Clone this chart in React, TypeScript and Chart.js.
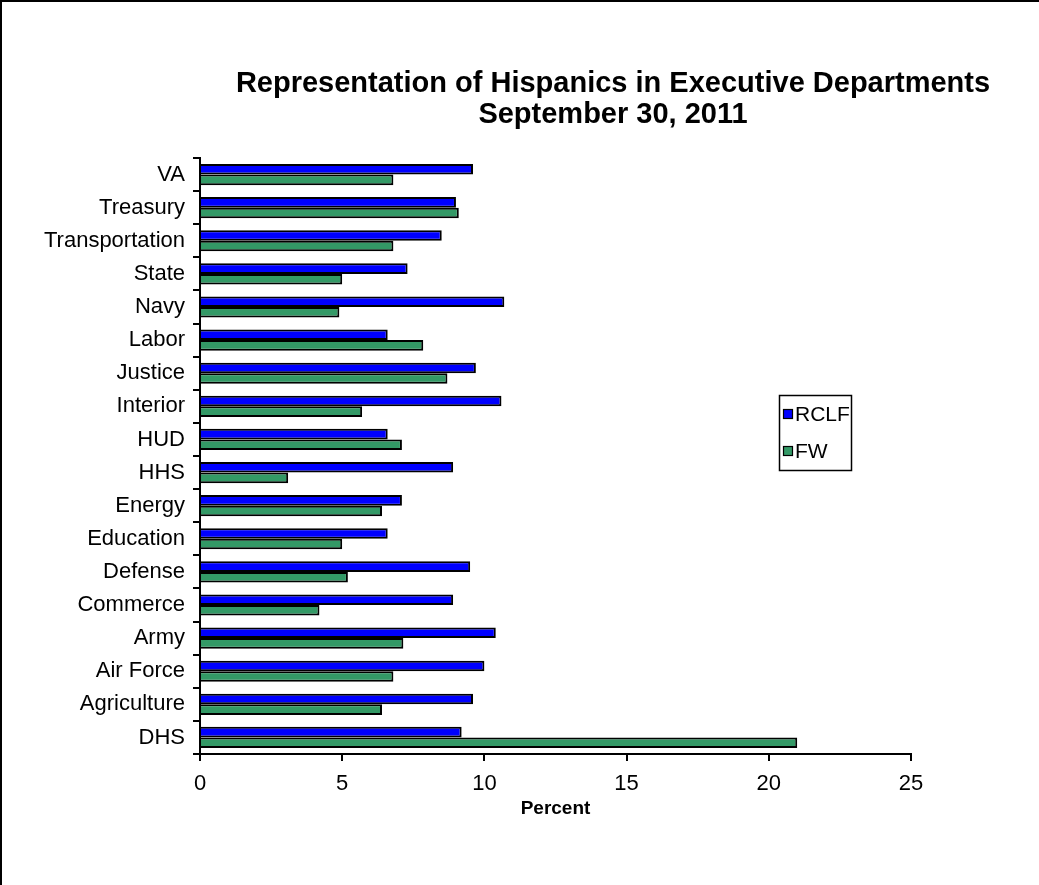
import React, { useEffect, useRef } from "react";
import { Chart, registerables } from "chart.js";

Chart.register(...registerables);

const departments = [
  "VA", "Treasury", "Transportation", "State", "Navy", "Labor", "Justice", "Interior", "HUD",
  "HHS", "Energy", "Education", "Defense", "Commerce", "Army", "Air Force", "Agriculture", "DHS",
];
const rclf = [9.6, 9.0, 8.5, 7.3, 10.7, 6.6, 9.7, 10.6, 6.6, 8.9, 7.1, 6.6, 9.5, 8.9, 10.4, 10.0, 9.6, 9.2];
const fw = [6.8, 9.1, 6.8, 5.0, 4.9, 7.85, 8.7, 5.7, 7.1, 3.1, 6.4, 5.0, 5.2, 4.2, 7.15, 6.8, 6.4, 21.0];
const seriesNames = ["RCLF", "FW"];
const seriesColors = ["#0000FF", "#339966"];
const xTicks = [0, 5, 10, 15, 20, 25];
const titleLines = ["Representation of Hispanics in Executive Departments", "September 30, 2011"];
const xTitle = "Percent";

const FONT = "'Liberation Sans', Arial, sans-serif";
const W = 1039;
const H = 885;

const decorPlugin = {
  id: "decor",
  beforeDraw(chart: any) {
    const ctx = chart.ctx;
    ctx.save();
    ctx.fillStyle = "#fff";
    ctx.fillRect(0, 0, chart.width, chart.height);
    ctx.strokeStyle = "#000";
    ctx.lineWidth = 2;
    ctx.beginPath();
    ctx.moveTo(1, H);
    ctx.lineTo(1, 1);
    ctx.lineTo(W, 1);
    ctx.stroke();
    ctx.restore();
  },
  afterDraw(chart: any) {
    const ctx = chart.ctx;
    ctx.save();
    ctx.fillStyle = "#000";
    ctx.font = `bold 29px ${FONT}`;
    ctx.textAlign = "center";
    ctx.textBaseline = "middle";
    ctx.fillText(titleLines[0], 613, 84);
    ctx.fillText(titleLines[1], 613, 115);
    // legend
    const bx = 779, by = 395, bw = 72, bh = 75;
    ctx.fillStyle = "#fff";
    ctx.fillRect(bx, by, bw, bh);
    ctx.strokeStyle = "#000";
    ctx.lineWidth = 1.5;
    ctx.strokeRect(bx + 0.5, by + 0.5, bw, bh);
    ctx.font = `21px ${FONT}`;
    ctx.textAlign = "left";
    ctx.textBaseline = "middle";
    const ys = [414, 451];
    chart.data.datasets.forEach((ds: any, i: number) => {
      ctx.fillStyle = ds.backgroundColor;
      ctx.fillRect(bx + 4, ys[i] - 5, 10, 10);
      ctx.strokeStyle = "#000";
      ctx.lineWidth = 1.2;
      ctx.strokeRect(bx + 4.5, ys[i] - 4.5, 9, 9);
      ctx.fillStyle = "#000";
      ctx.fillText(ds.label, bx + 16, ys[i] + 1);
    });
    ctx.restore();
  },
};

export default function App() {
  const ref = useRef<HTMLCanvasElement>(null);
  useEffect(() => {
    document.body.style.margin = "0";
    const chart = new Chart(ref.current!, {
      type: "bar",
      data: {
        labels: departments,
        datasets: [
          { label: seriesNames[0], data: rclf, backgroundColor: seriesColors[0], borderColor: "#000", borderWidth: 2 },
          { label: seriesNames[1], data: fw, backgroundColor: seriesColors[1], borderColor: "#000", borderWidth: 2 },
        ],
      },
      options: {
        indexAxis: "y",
        animation: false,
        responsive: false,
        maintainAspectRatio: false,
        layout: { padding: { left: 0, right: 128, top: 158, bottom: 0 } },
        datasets: { bar: { categoryPercentage: 0.64, barPercentage: 1.0 } },
        plugins: { legend: { display: false }, title: { display: false }, tooltip: { enabled: false } },
        scales: {
          y: {
            type: "category",
            offset: true,
            grid: { display: true, drawOnChartArea: false, drawTicks: true, tickLength: 7, color: "#000", lineWidth: 2, offset: true },
            border: { display: true, color: "#000", width: 2 },
            ticks: { color: "#000", font: { family: FONT, size: 22 }, padding: 8, autoSkip: false },
            afterFit: (s: any) => { s.width = 200; },
          },
          x: {
            type: "linear",
            min: xTicks[0],
            max: xTicks[xTicks.length - 1],
            afterBuildTicks: (s: any) => { s.ticks = xTicks.map((v) => ({ value: v })); },
            grid: { display: true, drawOnChartArea: false, drawTicks: true, tickLength: 7, color: "#000", lineWidth: 2 },
            border: { display: true, color: "#000", width: 2 },
            ticks: { color: "#000", font: { family: FONT, size: 22 }, padding: 10 },
            title: { display: true, text: xTitle, color: "#000", font: { family: FONT, size: 19, weight: "bold" }, padding: { top: 0, bottom: 65 } },
            afterFit: (s: any) => { s.height = H - 754; },
          },
        },
      },
      plugins: [decorPlugin],
    });
    return () => chart.destroy();
  }, []);
  return (
    <div style={{ width: W, height: H }}>
      <canvas ref={ref} width={W} height={H} style={{ display: "block" }} />
    </div>
  );
}
